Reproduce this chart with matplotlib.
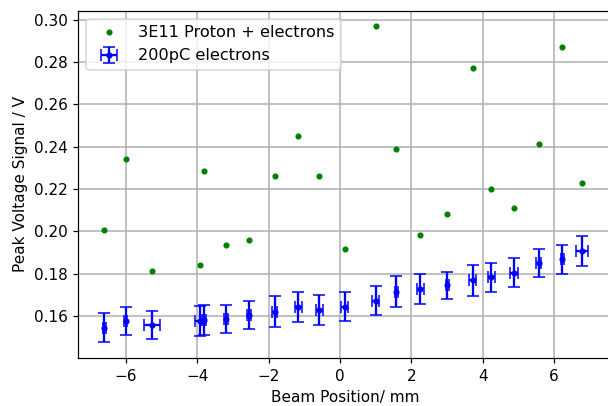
import matplotlib
matplotlib.use("Agg")
import matplotlib.pyplot as plt

# Beam positions (mm), shared by both series
beam_pos = [-6.61, -6.01, -5.27, -3.94, -3.82, -3.20, -2.56, -1.83, -1.17, -0.58,
            0.13, 1.00, 1.58, 2.25, 3.01, 3.72, 4.24, 4.88, 5.57, 6.24, 6.79]

# 3E11 Proton + electrons
proton_v = [0.2008, 0.2342, 0.1811, 0.1843, 0.2285, 0.1934, 0.1961, 0.2260, 0.2452, 0.2260,
            0.1915, 0.2968, 0.2389, 0.1984, 0.2080, 0.2771, 0.2198, 0.2109, 0.2412, 0.2869, 0.2230]

# 200pC electrons
electron_v = [0.1545, 0.1576, 0.1557, 0.1578, 0.1581, 0.1586, 0.1605, 0.1621, 0.1641, 0.1628,
              0.1644, 0.1673, 0.1715, 0.1729, 0.1744, 0.1768, 0.1783, 0.1805, 0.1852, 0.1868, 0.1907]
electron_yerr = [0.0067, 0.0068, 0.0067, 0.0071, 0.0072, 0.0068, 0.0068, 0.0071, 0.0071, 0.0070,
                 0.0069, 0.0069, 0.0072, 0.0071, 0.0066, 0.0072, 0.0069, 0.0068, 0.0066, 0.0068, 0.0069]
electron_xerr = [0.04, 0.04, 0.22, 0.13, 0.05, 0.05, 0.05, 0.07, 0.10, 0.10,
                 0.10, 0.10, 0.05, 0.10, 0.05, 0.10, 0.10, 0.10, 0.07, 0.05, 0.17]

plt.rcParams['font.family'] = ['DejaVu Sans']
plt.rcParams['font.size'] = 10

DPI = 110
fig = plt.figure(figsize=(608 / DPI, 406 / DPI), dpi=DPI)
ax = fig.add_axes([78.3 / 608, (406 - 358.3) / 406, (612.4 - 78.3) / 608, (358.3 - 10.7) / 406])

ax.plot(beam_pos, proton_v, '.', color='green', label='3E11 Proton + electrons')
ax.errorbar(beam_pos, electron_v, yerr=electron_yerr, xerr=electron_xerr, fmt='.',
            color='blue', capsize=4, label='200pC electrons')

ax.set_xlim(-7.34, 7.64)
ax.set_ylim(0.1400, 0.3042)
ax.set_xticks([-6, -4, -2, 0, 2, 4, 6])
ax.set_yticks([0.16, 0.18, 0.20, 0.22, 0.24, 0.26, 0.28, 0.30])
ax.grid(True, color='#b0b0b0', linewidth=1.0)
ax.set_axisbelow(True)
ax.set_xlabel('Beam Position/ mm')
ax.set_ylabel('Peak Voltage Signal / V')
ax.legend(loc='upper left', fontsize=10.6)

fig.savefig('out.png', dpi=DPI)
